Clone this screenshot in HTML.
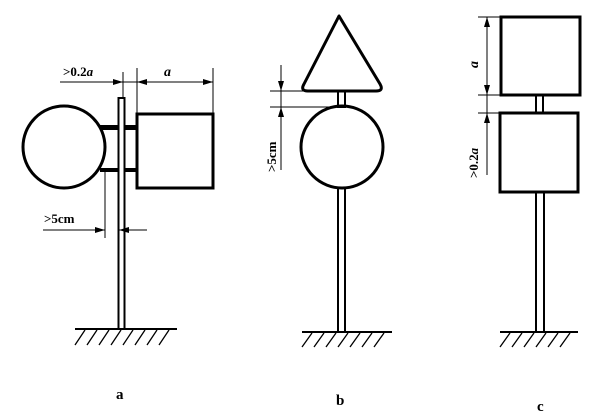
<!DOCTYPE html>
<html><head><meta charset="utf-8"><style>
html,body{margin:0;padding:0;background:#fff;}
svg{display:block;}
text{font-family:"Liberation Serif",serif;fill:#000;}
</style></head><body>
<svg width="600" height="415" viewBox="0 0 600 415" xmlns="http://www.w3.org/2000/svg">
<defs>
<marker id="ar" viewBox="0 0 10 6" refX="10" refY="3" markerWidth="10" markerHeight="6" orient="auto" markerUnits="userSpaceOnUse">
<path d="M0,0 L10,3 L0,6 z" fill="#000"/></marker>
</defs>
<g stroke="#000" fill="none">
<!-- Figure a -->
<circle cx="64" cy="147" r="41" stroke-width="3"/>
<rect x="100" y="125" width="37" height="5" fill="#000" stroke="none"/>
<rect x="100" y="168" width="37" height="4" fill="#000" stroke="none"/>
<rect x="118.5" y="98" width="6" height="231" fill="#fff" stroke-width="2"/>
<rect x="137" y="114" width="76" height="74" stroke-width="3"/>
<line x1="123" y1="72" x2="123" y2="98" stroke-width="1"/>
<line x1="137" y1="68" x2="137" y2="114" stroke-width="1"/>
<line x1="213" y1="68" x2="213" y2="114" stroke-width="1"/>
<line x1="60" y1="82" x2="123" y2="82" stroke-width="1" marker-end="url(#ar)"/>
<line x1="123" y1="82" x2="137" y2="82" stroke-width="1"/>
<line x1="175" y1="82" x2="137" y2="82" stroke-width="1" marker-end="url(#ar)"/>
<line x1="175" y1="82" x2="213" y2="82" stroke-width="1" marker-end="url(#ar)"/>
<line x1="105" y1="170" x2="105" y2="238" stroke-width="1"/>
<line x1="43" y1="230" x2="105" y2="230" stroke-width="1" marker-end="url(#ar)"/>
<line x1="147" y1="230" x2="119" y2="230" stroke-width="1" marker-end="url(#ar)"/>
<line x1="75" y1="329" x2="177" y2="329" stroke-width="2"/>
<path d="M75,345 L85,330 M87,345 L97,330 M99,345 L109,330 M111,345 L121,330 M123,345 L133,330 M135,345 L145,330 M147,345 L157,330 M159,345 L169,330" stroke-width="1.3"/>

<!-- Figure b -->
<path d="M339,16 L304,84 Q300,91 308,91 L376,91 Q384,91 380,84 Z" stroke-width="3" stroke-linejoin="round"/>
<rect x="338" y="91" width="7" height="16" stroke-width="2"/>
<circle cx="342" cy="147" r="41" stroke-width="3"/>
<rect x="338" y="188" width="7" height="144" stroke-width="2"/>
<line x1="270" y1="91" x2="305" y2="91" stroke-width="1"/>
<line x1="270" y1="107" x2="335" y2="107" stroke-width="1"/>
<line x1="281" y1="65" x2="281" y2="91" stroke-width="1" marker-end="url(#ar)"/>
<line x1="281" y1="170" x2="281" y2="107" stroke-width="1" marker-end="url(#ar)"/>
<line x1="281" y1="91" x2="281" y2="107" stroke-width="1"/>
<line x1="302" y1="332" x2="392" y2="332" stroke-width="2"/>
<path d="M302,347 L312,333 M314,347 L324,333 M326,347 L336,333 M338,347 L348,333 M350,347 L360,333 M362,347 L372,333 M374,347 L384,333" stroke-width="1.3"/>

<!-- Figure c -->
<rect x="501" y="17" width="79" height="78" stroke-width="3"/>
<rect x="536" y="95" width="7" height="18" stroke-width="2"/>
<rect x="500" y="113" width="78" height="79" stroke-width="3"/>
<rect x="536" y="192" width="8" height="140" stroke-width="2"/>
<line x1="478" y1="17" x2="501" y2="17" stroke-width="1"/>
<line x1="478" y1="95" x2="501" y2="95" stroke-width="1"/>
<line x1="478" y1="113" x2="500" y2="113" stroke-width="1"/>
<line x1="487" y1="56" x2="487" y2="17" stroke-width="1" marker-end="url(#ar)"/>
<line x1="487" y1="56" x2="487" y2="95" stroke-width="1" marker-end="url(#ar)"/>
<line x1="487" y1="95" x2="487" y2="113" stroke-width="1"/>
<line x1="487" y1="175" x2="487" y2="113" stroke-width="1" marker-end="url(#ar)"/>
<line x1="500" y1="332" x2="578" y2="332" stroke-width="2"/>
<path d="M500,347 L510,333 M512,347 L522,333 M524,347 L534,333 M536,347 L546,333 M548,347 L558,333 M560,347 L570,333" stroke-width="1.3"/>
</g>
<text x="63" y="76" font-size="13" font-weight="bold">&gt;0.2<tspan font-style="italic">a</tspan></text>
<text x="164" y="76" font-size="14" font-style="italic" font-weight="bold">a</text>
<text x="44" y="223" font-size="13" font-weight="bold">&gt;5cm</text>
<text transform="translate(276,172) rotate(-90)" font-size="13" font-weight="bold">&gt;5cm</text>
<text transform="translate(478,68) rotate(-90)" font-size="14" font-style="italic" font-weight="bold">a</text>
<text transform="translate(478,178) rotate(-90)" font-size="13" font-weight="bold">&gt;0.2<tspan font-style="italic">a</tspan></text>
<text x="116" y="399" font-size="15" font-weight="bold">a</text>
<text x="336" y="405" font-size="15" font-weight="bold">b</text>
<text x="537" y="411" font-size="15" font-weight="bold">c</text>
</svg>
</body></html>
